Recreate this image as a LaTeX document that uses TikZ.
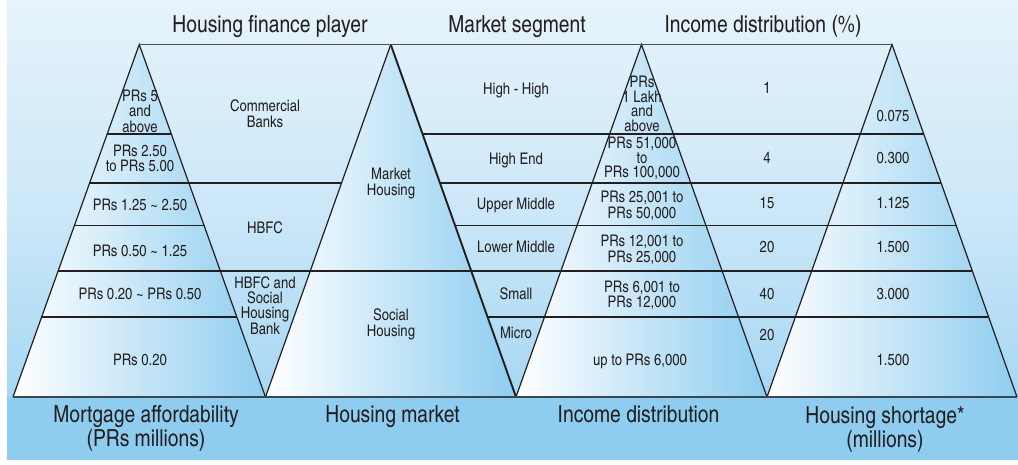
\documentclass[tikz,border=0pt]{standalone}
\usepackage{fontspec}
\setmainfont{texgyreheroscn}[Extension=.otf,UprightFont=*-regular,BoldFont=*-bold]
\usetikzlibrary{calc}
\definecolor{bgblue}{HTML}{8ECDF0}
\definecolor{bga}{HTML}{A6D7F3}
\definecolor{bgb}{HTML}{CDE8F8}
\definecolor{bgc}{HTML}{E6F3FB}
\definecolor{ink}{HTML}{231F20}
\definecolor{rulegray}{HTML}{4A4F55}
\definecolor{basegray}{HTML}{3A4650}
\pgfdeclareverticalshading{bgshade}{100bp}{color(0bp)=(bgblue); color(24.4bp)=(bga); color(49.6bp)=(bgb); color(74.8bp)=(bgc); color(100bp)=(white)}
\begin{document}
\begin{tikzpicture}[x=1pt,y=-1pt,
  edge/.style={draw=ink,line width=1.2pt,line join=miter},
  band/.style={draw=ink,line width=1.1pt},
  toprule/.style={draw=rulegray,line width=1.5pt},
  baserule/.style={draw=basegray,line width=1.8pt},
  tri/.style={left color=white,right color=bgblue},
  txt/.style={font=\fontsize{16}{15.3}\selectfont,text=ink,align=center,inner sep=0pt,anchor=base},
  hdr/.style={font=\fontsize{23.5}{23.3}\selectfont,text=ink,align=center,inner sep=0pt,anchor=base}]
\useasboundingbox (0,0) rectangle (1018,464);
% background
\shade[shading=bgshade] (7,0) rectangle (1018,397);
\fill[bgblue] (7,397) rectangle (1018,460);
% apexes and base points
\coordinate (a1) at (139.25,44.5);
\coordinate (a2) at (390.75,44.5);
\coordinate (a3) at (641.5,44.5);
\coordinate (a4) at (892,44.5);
\coordinate (b0) at (13,397);
\coordinate (b1) at (265.5,397);
\coordinate (b2) at (516,397);
\coordinate (b3) at (767,397);
\coordinate (b4) at (1017,397);
% triangle fills
\shade[tri] (a1) -- (b1) -- (b0) -- cycle;
\shade[tri] (a2) -- (b2) -- (b1) -- cycle;
\shade[tri] (a3) -- (b3) -- (b2) -- cycle;
\shade[tri] (a4) -- (b4) -- (b3) -- cycle;
% row lines
\draw[band] ($(a1)!.2539!(b0)$) -- ($(a1)!.2539!(b1)$);
\draw[band] ($(a2)!.2539!(b2)$) -- ($(a4)!.2539!(b4)$);
\draw[band] ($(a1)!.3929!(b0)$) -- ($(a2)!.3929!(b1)$);
\draw[band] ($(a2)!.3929!(b2)$) -- ($(a4)!.3929!(b4)$);
\draw[band] ($(a1)!.5135!(b0)$) -- ($(a1)!.5135!(b1)$);
\draw[band] ($(a2)!.5135!(b2)$) -- ($(a4)!.5135!(b4)$);
\draw[band] ($(a1)!.6426!(b0)$) -- ($(a4)!.6426!(b4)$);
\draw[band] ($(a1)!.7730!(b0)$) -- ($(a1)!.7730!(b1)$);
\draw[band] ($(a2)!.7730!(b2)$) -- ($(a4)!.7730!(b4)$);
% triangle edges
\draw[edge] (b0) -- (a1) -- (b1);
\draw[edge] (b1) -- (a2);
\draw[edge,line width=1.9pt] (a2) -- (b2);
\draw[edge] (b2) -- (a3) -- (b3);
\draw[edge] (b3) -- (a4) -- (b4);
% top and base rules
\draw[toprule] (a1) -- (a4);
\draw[baserule] (b0) -- (b4);
% headers
\node[hdr] (h1) at (270,32) {Housing finance player};
\node[hdr] (h2) at (517,32) {Market segment};
\node[hdr] (h3) at (763,32) {Income distribution (\%)};
% footers (multi-line nodes: base = last line)
\node[hdr] (f1) at (146,446) {Mortgage affordability\\(PRs millions)};
\node[hdr] (f2) at (392.5,422.7) {Housing market};
\node[hdr] (f3) at (638.5,422.7) {Income distribution};
\node[hdr] (f4) at (885,447) {Housing shortage*\\(millions)};
% triangle 1
\node[txt] (m1) at (140,132) {PRs 5\\and\\above};
\node[txt] (m2) at (140,171.7) {PRs 2.50\\to PRs 5.00};
\node[txt] (m3) at (140,210.7) {PRs 1.25 \textasciitilde{} 2.50};
\node[txt] (m4) at (140,256) {PRs 0.50 \textasciitilde{} 1.25};
\node[txt] (m5) at (140,299) {PRs 0.20 \textasciitilde{} PRs 0.50};
\node[txt] (m6) at (140,365) {PRs 0.20};
% column 1-2
\node[txt] (p1) at (265,127) {Commercial\\Banks};
\node[txt] (p2) at (265,233) {HBFC};
\node[txt] (p3) at (265,334) {HBFC and\\Social\\Housing\\Bank};
% triangle 2
\node[txt] (k1) at (391,195) {Market\\Housing};
\node[txt] (k2) at (391,336) {Social\\Housing};
% column 2-3
\node[txt] (s1) at (516,94) {High - High};
\node[txt] (s2) at (516,164) {High End};
\node[txt] (s3) at (516,209) {Upper Middle};
\node[txt] (s4) at (516,252.7) {Lower Middle};
\node[txt] (s5) at (516,299) {Small};
\node[txt] (s6) at (516,338.3) {Micro};
% triangle 3
\node[txt,font=\fontsize{16}{14.8}\selectfont] (i1) at (642,131.7) {PRs\\1 Lakh\\and\\above};
\node[txt,font=\fontsize{16}{14.2}\selectfont] (i2) at (642,177.3) {PRs 51,000\\to\\PRs 100,000};
\node[txt,font=\fontsize{16}{15.6}\selectfont] (i3) at (642,218.3) {PRs 25,001 to\\PRs 50,000};
\node[txt,font=\fontsize{16}{15.6}\selectfont] (i4) at (642,262.3) {PRs 12,001 to\\PRs 25,000};
\node[txt,font=\fontsize{16}{15.6}\selectfont] (i5) at (642,307.7) {PRs 6,001 to\\PRs 12,000};
\node[txt] (i6) at (640,365) {up to PRs 6,000};
% column 3-4
\node[txt] (d1) at (767,93.3) {1};
\node[txt] (d2) at (767,163.3) {4};
\node[txt] (d3) at (767,208.3) {15};
\node[txt] (d4) at (767,252.7) {20};
\node[txt] (d5) at (767,299) {40};
\node[txt] (d6) at (767,340.7) {20};
% triangle 4
\node[txt] (q1) at (893,121.7) {0.075};
\node[txt] (q2) at (893,163.3) {0.300};
\node[txt] (q3) at (893,208.3) {1.125};
\node[txt] (q4) at (893,252.7) {1.500};
\node[txt] (q5) at (893,299) {3.000};
\node[txt] (q6) at (893,365) {1.500};
\end{tikzpicture}
\end{document}
